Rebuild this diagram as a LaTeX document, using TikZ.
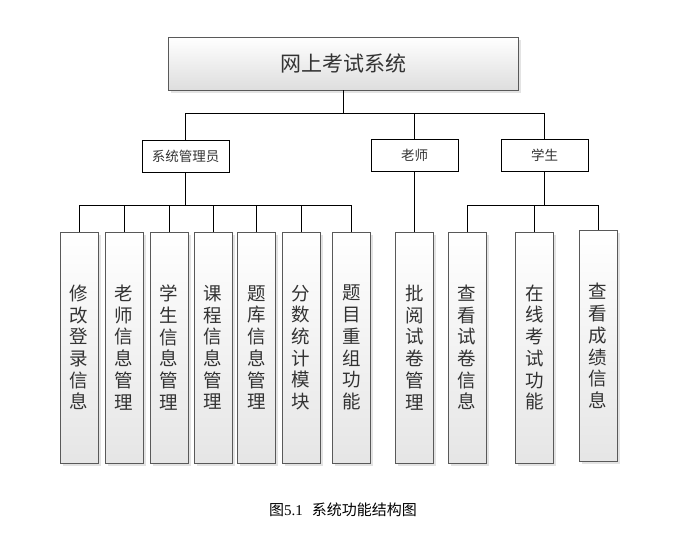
\documentclass[tikz,border=0pt]{standalone}
\usepackage{fontspec}
\setmainfont{Liberation Serif}
\newfontfamily\cjk{Noto Sans CJK SC}
\usetikzlibrary{shadows}
\begin{document}
\begin{tikzpicture}[x=1pt, y=-1pt,
  softshadow/.style={drop shadow={opacity=.22, shadow xshift=2.5pt, shadow yshift=-2.5pt}},
  topbox/.style={draw=black!65, top color=white, bottom color=black!13, softshadow,
    minimum width=350pt, minimum height=53pt, inner sep=0pt,
    text=black!80, font=\cjk\fontsize{21}{25}\selectfont},
  rolebox/.style={draw, fill=white, minimum width=87pt, minimum height=32pt, inner sep=0pt,
    text=black!80, font=\cjk\fontsize{13.5}{16}\selectfont},
  leafbox/.style={draw=black!65, top color=white, bottom color=black!10, softshadow,
    minimum width=38pt, minimum height=231pt, inner sep=0pt, align=center,
    text=black!80, font=\cjk\fontsize{18.5}{21.7}\selectfont}]
  \useasboundingbox (0,0) rectangle (698,538);
  % top and roles
  \node[topbox] (sys) at (343,63.5) {网上考试系统};
  \node[rolebox] (adm) at (185.5,156) {系统管理员};
  \node[rolebox] (tea) at (414.5,155.5) {老师};
  \node[rolebox] (stu) at (544.5,155) {学生};
  % functions of the administrator
  \node[leafbox] (a1) at (79,347.5) {修\\改\\登\\录\\信\\息};
  \node[leafbox] (a2) at (124,347.5) {老\\师\\信\\息\\管\\理};
  \node[leafbox] (a3) at (169,347.5) {学\\生\\信\\息\\管\\理};
  \node[leafbox] (a4) at (213,347.5) {课\\程\\信\\息\\管\\理};
  \node[leafbox] (a5) at (256.5,347.5) {题\\库\\信\\息\\管\\理};
  \node[leafbox] (a6) at (301,347.5) {分\\数\\统\\计\\模\\块};
  \node[leafbox] (a7) at (351.5,347.5) {题\\目\\重\\组\\功\\能};
  % teacher
  \node[leafbox] (t1) at (414.5,347.5) {批\\阅\\试\\卷\\管\\理};
  % student
  \node[leafbox] (s1) at (467,347.5) {查\\看\\试\\卷\\信\\息};
  \node[leafbox] (s2) at (534.5,347.5) {在\\线\\考\\试\\功\\能};
  \node[leafbox] (s3) at (598,346) {查\\看\\成\\绩\\信\\息};
  % connectors
  \foreach \n in {adm,tea,stu}
    \draw (sys.south) -- ++(0,23) -| (\n.north);
  \foreach \n in {a1,a2,a3,a4,a5,a6,a7}
    \draw (adm.south) -- ++(0,33) -| (\n.north);
  \draw (tea.south) -- (t1.north);
  \foreach \n in {s1,s2,s3}
    \draw (stu.south) -- ++(0,34) -| (\n.north);
  % caption
  \node (cap) at (343,510) {\fontsize{15}{17}\selectfont{\cjk 图}5.1\hspace{0.6em}{\cjk 系统功能结构图}};
\end{tikzpicture}
\end{document}
